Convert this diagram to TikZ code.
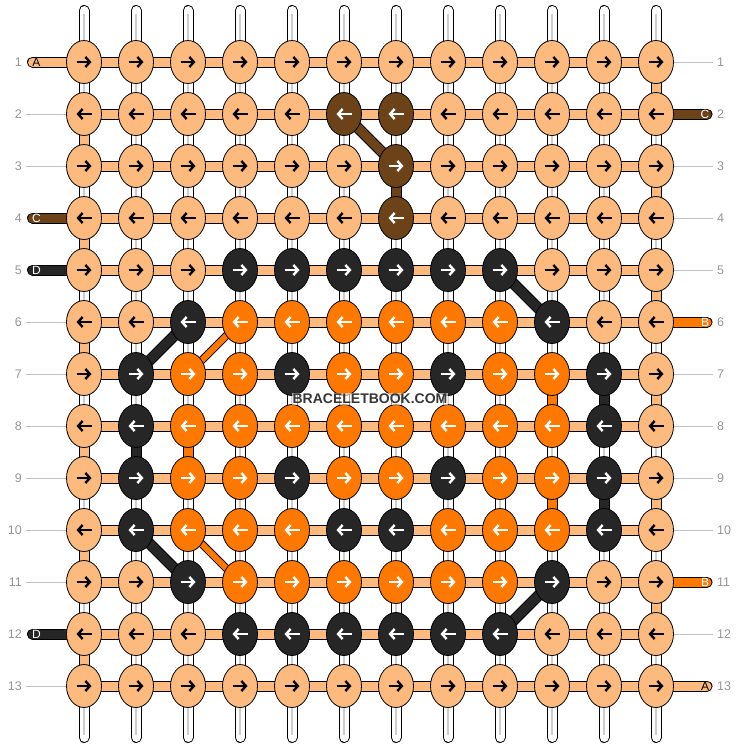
\documentclass[tikz,border=0pt]{standalone}
\usepackage{fontspec}
\setmainfont{Liberation Sans}
\usetikzlibrary{shapes.geometric,arrows.meta,backgrounds}

\definecolor{cola}{RGB}{253,186,126}
\definecolor{colb}{RGB}{255,120,0}
\definecolor{colc}{RGB}{108,66,24}
\definecolor{cold}{RGB}{38,38,38}
\colorlet{inka}{black}
\colorlet{inkb}{white}
\colorlet{inkc}{white}
\colorlet{inkd}{white}
\definecolor{numgray}{RGB}{150,150,150}
\definecolor{linegray}{RGB}{195,195,195}
\definecolor{coregray}{RGB}{205,205,205}
\definecolor{markgray}{RGB}{55,55,55}

\tikzset{
    knot/.style={ellipse, draw, line width=0.8pt, fill=col#1, minimum width=35pt, minimum height=43pt, inner sep=0pt},
    arr/.style={line width=2.4pt, -{Straight Barb[length=4.5pt,width=10pt]}},
    thread/.style={line width=1pt, double=#1, double distance=9pt},
    warp/.style={thread=white},
    core/.style={coregray, line width=1.5pt},
    num/.style={text=numgray, font=\fontsize{12.5}{13}\selectfont, inner sep=0pt},
    tag/.style={font=\fontsize{12}{13}\selectfont, inner sep=0pt},
    rowline/.style={linegray, line width=0.8pt},
}

\begin{document}
    \begin{tikzpicture}[x=1pt, y=-1pt]
        \useasboundingbox (0,0) rectangle (740,748);

        % knots, one row after the other
        \foreach \r/\row [evaluate=\r as \xa using {7.5-15*isodd(\r)}, evaluate=\r as \xb using {15*isodd(\r)-7.5}] in {
            1/{a,a,a,a,a,a,a,a,a,a,a,a},
            2/{a,a,a,a,a,c,c,a,a,a,a,a},
            3/{a,a,a,a,a,a,c,a,a,a,a,a},
            4/{a,a,a,a,a,a,c,a,a,a,a,a},
            5/{a,a,a,d,d,d,d,d,d,a,a,a},
            6/{a,a,d,b,b,b,b,b,b,d,a,a},
            7/{a,d,b,b,d,b,b,d,b,b,d,a},
            8/{a,d,b,b,b,b,b,b,b,b,d,a},
            9/{a,d,b,b,d,b,b,d,b,b,d,a},
            10/{a,d,b,b,b,d,d,b,b,b,d,a},
            11/{a,a,d,b,b,b,b,b,b,d,a,a},
            12/{a,a,a,d,d,d,d,d,d,a,a,a},
            13/{a,a,a,a,a,a,a,a,a,a,a,a}} {
            \foreach \k [count=\c] in \row {
                \node[knot=\k] (k-\r-\c) at ({32+52*\c}, {10+52*\r}) {};
                \draw[arr, draw=ink\k] ([xshift=\xa pt]k-\r-\c.center) -- ([xshift=\xb pt]k-\r-\c.center);
            }
        }

        % row numbers
        \foreach \r in {1,...,13} {
            \node[num, anchor=east] (nl-\r) at (22, {10+52*\r}) {\r};
            \node[num, anchor=west] (nr-\r) at (717, {10+52*\r}) {\r};
        }

        % thread letters
        \foreach \r/\k/\t in {1/a/A, 4/c/C, 5/d/D, 12/d/D} {
            \node[tag, text=ink\k] (tl-\r) at (36.5, {10+52*\r}) {\t};
            \coordinate (el-\r) at (32.5, {10+52*\r});
        }
        \foreach \r/\k/\t in {2/c/C, 6/b/B, 11/b/B, 13/a/A} {
            \node[tag, text=ink\k] (tr-\r) at (705, {10+52*\r}) {\t};
            \coordinate (er-\r) at (707, {10+52*\r});
        }

        \node[font=\bfseries\fontsize{14}{15}\selectfont, text=markgray, fill=white, fill opacity=0.6, text opacity=1, inner sep=1pt] (mark) at (370,399) {BRACELETBOOK.COM};

        \begin{scope}[on background layer]
            % white strands
            \foreach \c in {1,...,12} {
                \coordinate (t-\c) at ({32+52*\c}, 10.5);
                \coordinate (b-\c) at ({32+52*\c}, 737.5);
                \draw[warp, line cap=round] (t-\c) -- (k-1-\c.center);
                \draw[core, shorten <=3pt] (t-\c) -- (k-1-\c.center);
                \draw[warp, line cap=round] (b-\c) -- (k-13-\c.center);
                \draw[core, shorten <=3pt] (b-\c) -- (k-13-\c.center);
            }
            \foreach \r [evaluate=\r as \s using int(\r+1)] in {1,...,12} {
                \foreach \c in {1,...,12} {
                    \draw[warp] (k-\r-\c.center) -- (k-\s-\c.center);
                    \draw[core] (k-\r-\c.center) -- (k-\s-\c.center);
                }
            }

            % peach thread across the rows
            \foreach \r in {1,...,13} {
                \foreach \c [evaluate=\c as \d using int(\c+1)] in {1,...,11}
                    \draw[thread=cola] (k-\r-\c.center) -- (k-\r-\d.center);
            }

            % carried threads
            \foreach \r/\c/\k [evaluate=\r as \s using int(\r+1)] in {1/12/a, 2/1/a, 3/12/a, 4/1/a, 5/12/a, 6/1/a,
                    7/12/a, 8/1/a, 9/12/a, 10/1/a, 11/12/a, 12/1/a, 3/7/c, 7/10/b, 7/11/d, 8/2/d, 8/3/b, 9/10/b, 9/11/d}
                \draw[thread=col\k] (k-\r-\c.center) -- (k-\s-\c.center);
            \foreach \r/\c/\d/\k [evaluate=\r as \s using int(\r+1)] in {2/6/7/c, 5/9/10/d, 6/3/2/d, 10/2/3/d, 11/10/9/d}
                \draw[thread=col\k] (k-\r-\c.center) -- (k-\s-\d.center);
            \foreach \r/\c/\d/\k [evaluate=\r as \s using int(\r+1)] in {6/4/3/b, 10/3/4/b}
                \draw[thread=col\k, double distance=6pt] (k-\r-\c.center) -- (k-\s-\d.center);

            % ends
            \foreach \r/\k in {1/a, 4/c, 5/d, 12/d}
                \draw[thread=col\k, line cap=round] (el-\r) -- (k-\r-1.center);
            \foreach \r/\k in {2/c, 6/b, 11/b, 13/a}
                \draw[thread=col\k, line cap=round] (er-\r) -- (k-\r-12.center);
            \foreach \r in {2,3,6,7,8,9,10,11,13}
                \draw[rowline] ([xshift=4pt]nl-\r.east) -- (k-\r-1.center);
            \foreach \r in {1,3,4,5,7,8,9,10,12}
                \draw[rowline] ([xshift=-4pt]nr-\r.west) -- (k-\r-12.center);
        \end{scope}
    \end{tikzpicture}
\end{document}
